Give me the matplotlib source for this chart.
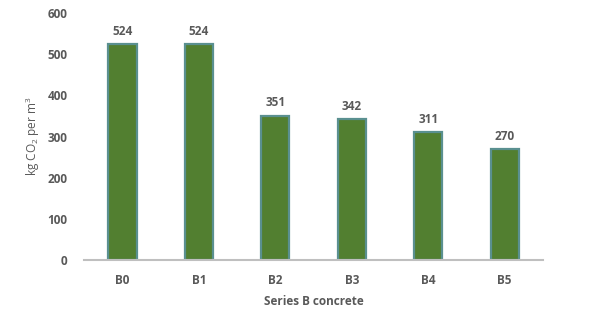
import matplotlib
matplotlib.use("Agg")
from matplotlib import pyplot as plt

categories = ["B0", "B1", "B2", "B3", "B4", "B5"]
co2 = [524, 524, 351, 342, 311, 270]

plt.rcParams['font.family'] = ['Open Sans', 'DejaVu Sans']
plt.rcParams['mathtext.fontset'] = 'custom'
plt.rcParams['mathtext.rm'] = 'Open Sans'
grey = "#595959"

fig = plt.figure(figsize=(6.1, 3.25), dpi=100)
ax = fig.add_axes([0.138, 0.2, 0.752, 0.76])

x = range(len(categories))
bars = ax.bar(x, co2, width=0.37, color="#527f30", edgecolor="#5a9090", linewidth=1.6, zorder=2)
for b, v in zip(bars, co2):
    ax.text(b.get_x() + b.get_width() / 2, v + 15, str(v), ha="center", va="bottom",
            fontsize=8.5, fontweight="bold", color=grey)

ax.set_xlim(-0.5, len(categories) - 0.5)
ax.set_ylim(0, 600)
ax.set_yticks(range(0, 601, 100))
ax.set_xticks(list(x))
ax.set_xticklabels(categories)
for lab in ax.get_xticklabels() + ax.get_yticklabels():
    lab.set_fontweight("bold")
ax.tick_params(axis="both", length=0, labelsize=8.5, colors=grey)
ax.tick_params(axis="x", pad=10)
ax.tick_params(axis="y", pad=12)

for s in ["top", "right", "left"]:
    ax.spines[s].set_visible(False)
ax.spines["bottom"].set_color("#bfbfbf")
ax.spines["bottom"].set_linewidth(1.5)

ax.set_xlabel("Series B concrete", fontsize=8.5, fontweight="bold", color=grey, labelpad=6)
ax.set_ylabel("kg CO$_\\mathrm{2}$ per m$^\\mathrm{3}$", fontsize=8.5, color=grey, labelpad=4)

fig.savefig("out.png", dpi=100)
